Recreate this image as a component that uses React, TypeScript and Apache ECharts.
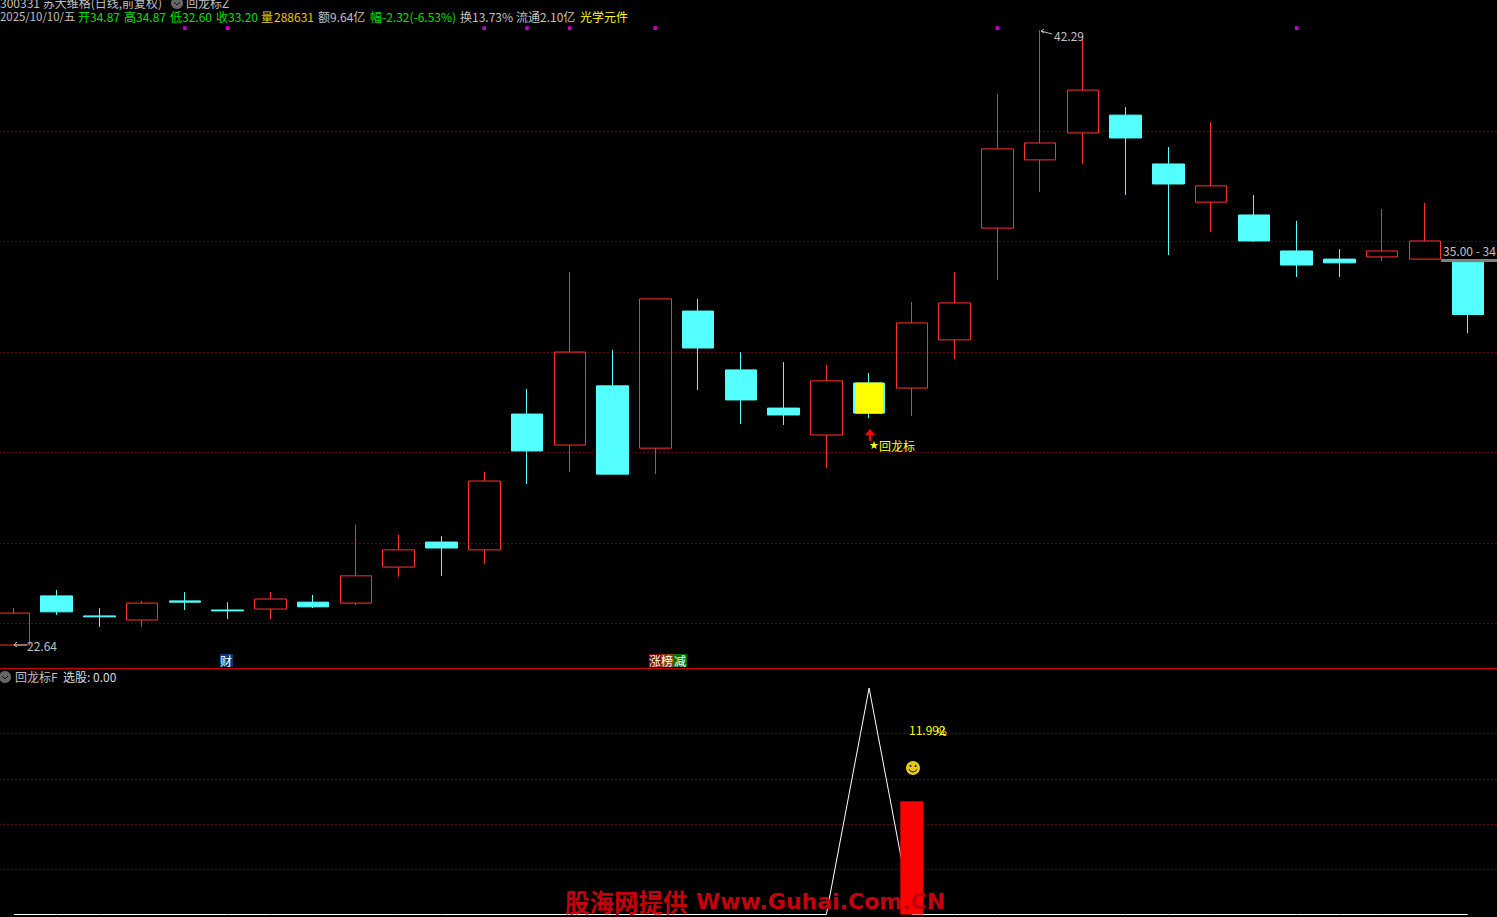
import React, { useEffect, useRef } from "react";
import * as echarts from "echarts";

const opens = [22.64,24.21,23.57,23.44,24.05,23.76,23.79,24.01,23.98,25.13,25.93,25.68,30.02,29.03,30.92,28.93,33.31,31.43,30.21,29.35,31.01,30.85,32.39,35.96,38.14,39.00,39.57,38.01,36.79,36.38,35.23,34.97,35.04,34.97,34.87];
const closes = [23.66,23.70,23.54,23.98,24.01,23.73,24.11,23.86,24.85,25.68,25.74,27.88,28.84,32.00,28.10,33.70,32.13,30.47,29.99,31.08,30.05,32.93,33.57,38.49,38.68,40.37,38.84,37.37,37.31,35.55,34.78,34.85,35.23,35.55,33.20];
const lows = [22.64,23.60,23.22,23.22,23.76,23.47,23.47,23.82,23.92,24.82,24.85,25.23,27.78,28.17,28.10,28.10,30.79,29.70,29.67,28.30,29.89,29.96,31.78,34.30,37.11,38.01,37.02,35.10,35.84,35.52,34.40,34.40,34.91,34.97,32.60];
const highs = [23.82,24.40,23.82,24.05,24.33,24.01,24.33,24.24,26.48,26.16,26.12,28.17,30.82,34.56,32.07,33.70,33.70,32.00,31.68,31.59,31.33,33.60,34.56,40.24,42.29,42.03,39.83,38.55,39.35,37.02,36.19,35.29,36.57,36.76,34.87];
const categories = [...opens.map((_, i) => String(i + 1)), ""];

const signalOpen = 30.05;
const signalClose = 31.01;
const signalIndex = 20;
const flagIndexes = [4, 5, 11, 12, 13, 15, 23, 30];
const flagPrice = 42.35;

const priceLevels = [39.047, 35.533, 31.986, 28.791, 25.884, 23.328];
const lowerLevels = [19.87, 39.74, 59.61, 79.92];
const lowerLine = [0,0,0,0,0,0,0,0,0,0,0,0,0,0,0,0,0,0,0,0,100,0,0,0,0,0,0,0,0,0,0,0,0,0,0];
const lowerBars = [0,0,0,0,0,0,0,0,0,0,0,0,0,0,0,0,0,0,0,0,0,50,0,0,0,0,0,0,0,0,0,0,0,0,0];

const GRAY = "#c0c0c0";
const GREEN = "#00e000";
const FONT = '12px "Noto Sans CJK SC", "Liberation Sans", sans-serif';
const headerSegments: [string, number, string, string?][] = [
  ["2025/10/10/五", 0, GRAY, '11.4px "Noto Sans CJK SC", "Liberation Sans", sans-serif'],
  ["开", 78, GREEN], ["34.87", 90, GREEN],
  ["高", 124, GREEN], ["34.87", 136, GREEN],
  ["低", 170, GREEN], ["32.60", 182, GREEN],
  ["收", 216, GREEN], ["33.20", 228, GREEN],
  ["量", 261, "#e6c800"], ["288631", 274, "#e6c800"],
  ["额", 318, GRAY], ["9.64亿", 330, GRAY],
  ["幅", 370, GREEN], ["-2.32(-6.53%)", 382, GREEN],
  ["换", 460, GRAY], ["13.73%", 472, GRAY],
  ["流通", 516, GRAY], ["2.10亿", 540, GRAY],
  ["光学元件", 580, "#ffff00"],
];

const txt = (text: string, x: number, y: number, fill: string, font = FONT) => ({
  type: "text", silent: true, z: 50,
  style: { text, x, y: y - 1, fill, font, textVerticalAlign: "middle" },
});
const badge = (x: number, w: number, bg: string, label: string) => [
  { type: "rect", z: 50, shape: { x, y: 654, width: w, height: 13 }, style: { fill: bg } },
  txt(label, x, 661, "#ffffff"),
];
const chevron = (cx: number, cy: number) => [
  { type: "circle", z: 50, shape: { cx, cy, r: 6 }, style: { fill: "#666666" } },
  { type: "polyline", z: 51, shape: { points: [[cx - 3, cy - 1], [cx, cy + 2], [cx + 3, cy - 1]] }, style: { stroke: "#111111", lineWidth: 1, fill: "none" } },
];

const graphics: any[] = [
  { type: "rect", z: 40, shape: { x: 0, y: 668, width: 1497, height: 1 }, style: { fill: "#c80000" } },
  txt("300331 苏大维格(日线,前复权)", 0, 3, GRAY),
  ...chevron(177, 3),
  txt("回龙标Z", 186, 3, GRAY),
  ...headerSegments.map(([t, x, c, f]) => txt(t, x, 17, c, f || FONT)),
  // high / low callouts
  txt("42.29", 1054, 36, GRAY),
  { type: "polyline", z: 50, shape: { points: [[1044, 29], [1041, 31], [1044, 33]] }, style: { stroke: GRAY, lineWidth: 1, fill: "none" } },
  { type: "line", z: 50, shape: { x1: 1041, y1: 31, x2: 1052, y2: 34 }, style: { stroke: GRAY, lineWidth: 1 } },
  txt("22.64", 27, 646, GRAY),
  { type: "polyline", z: 50, shape: { points: [[17, 642], [14, 645], [17, 647]] }, style: { stroke: GRAY, lineWidth: 1, fill: "none" } },
  { type: "line", z: 50, shape: { x1: 14, y1: 645, x2: 27, y2: 645 }, style: { stroke: GRAY, lineWidth: 1 } },
  // current price tag
  txt("35.00 - 34", 1443, 251, GRAY),
  { type: "rect", z: 50, shape: { x: 1441, y: 259, width: 56, height: 3 }, style: { fill: "#808080" } },
  // signal arrow and label
  { type: "polygon", z: 50, shape: { points: [[870, 429], [875, 435], [865, 435]] }, style: { fill: "#ff0000" } },
  { type: "rect", z: 50, shape: { x: 869, y: 435, width: 2, height: 6 }, style: { fill: "#ff0000" } },
  txt("★", 869, 446, "#ffff00", '11px "DejaVu Sans"'),
  txt("回龙标", 879, 446, "#ffff00"),
  // badges
  ...badge(220, 13, "#003c78", "财"),
  ...badge(649, 13, "#800000", "涨"),
  ...badge(661, 13, "#804000", "榜"),
  ...badge(674, 13, "#007000", "减"),
  // lower panel header
  ...chevron(5, 677),
  txt("回龙标F", 15, 677, GRAY),
  txt("选股: 0.00", 63, 677, "#d8d8d8"),
  // annotations of the lower panel
  txt("11.992", 909, 730, "#ffff00"),
  txt("%", 937, 733, "#ffff00", '11px "Liberation Sans"'),
  { type: "circle", z: 50, shape: { cx: 913, cy: 768, r: 7 }, style: { fill: "#e8c820" } },
  { type: "circle", z: 51, shape: { cx: 910.5, cy: 766, r: 1 }, style: { fill: "#222200" } },
  { type: "circle", z: 51, shape: { cx: 915.5, cy: 766, r: 1 }, style: { fill: "#222200" } },
  { type: "arc", z: 51, shape: { cx: 913, cy: 768, r: 4, startAngle: 0.3, endAngle: Math.PI - 0.3 }, style: { stroke: "#222200", lineWidth: 1, fill: "none" } },
  // watermark
  txt("股海网提供", 565, 902, "#c4000c", 'bold 24.5px "Noto Sans CJK SC"'),
  txt("Www.Guhai.Com.CN", 696, 902, "#c4000c", 'bold 22px "DejaVu Sans"'),
];

const levelLines = (vals: number[]) => ({
  silent: true, symbol: "none", animation: false, label: { show: false }, z: 1,
  lineStyle: { color: "#c00010", width: 1, type: [1, 3] as any, dashOffset: 0.5, opacity: 1 },
  data: vals.map((yAxis) => ({ yAxis })),
});

const option: any = {
  animation: false,
  backgroundColor: "#000000",
  tooltip: { show: false },
  grid: [
    { left: -7.5, width: 1539.4, top: 0, height: 668, outerBoundsMode: "none" },
    { left: -7.5, width: 1539.4, top: 669, height: 245.5, outerBoundsMode: "none" },
  ],
  xAxis: [
    { type: "category", gridIndex: 0, data: categories, show: false },
    { type: "category", gridIndex: 1, data: categories, show: false },
  ],
  yAxis: [
    { type: "value", gridIndex: 0, min: 21.906, max: 43.2485, show: false, splitLine: { show: false } },
    { type: "value", gridIndex: 1, min: 0, max: 108.4, show: false, splitLine: { show: false } },
  ],
  graphic: graphics,
  series: [
    {
      type: "candlestick", xAxisIndex: 0, yAxisIndex: 0, barWidth: 32, z: 3,
      data: opens.map((o, i) => [o, closes[i], lows[i], highs[i]]),
      itemStyle: { color: "transparent", borderColor: "#ff3232", color0: "#54ffff", borderColor0: "#54ffff", borderWidth: 1 },
      markLine: levelLines(priceLevels),
    },
    {
      type: "candlestick", xAxisIndex: 0, yAxisIndex: 0, barWidth: 27, z: 4,
      data: opens.map((_, i) => (i === signalIndex ? [signalOpen, signalClose, signalOpen, signalClose] : ["-", "-", "-", "-"])),
      itemStyle: { color: "#ffff00", borderColor: "#ffff00", borderWidth: 1 },
    },
    {
      type: "scatter", xAxisIndex: 0, yAxisIndex: 0, symbol: "rect", symbolSize: 3.6, z: 5,
      data: flagIndexes.map((i) => [i, flagPrice]),
      itemStyle: { color: "#ff00ff" },
    },
    {
      type: "line", xAxisIndex: 1, yAxisIndex: 1, data: lowerLine, symbol: "none", z: 3,
      lineStyle: { color: "#ffffff", width: 1 },
      markLine: levelLines(lowerLevels),
    },
    {
      type: "bar", xAxisIndex: 1, yAxisIndex: 1, data: lowerBars, barWidth: 23, z: 4,
      itemStyle: { color: "#ff0000" },
    },
  ],
};

export default function App() {
  const ref = useRef<HTMLDivElement>(null);
  useEffect(() => {
    document.body.style.margin = "0";
    document.body.style.background = "#000";
    const chart = echarts.init(ref.current!, null, { renderer: "svg" });
    chart.setOption(option);
    return () => chart.dispose();
  }, []);
  return <div ref={ref} style={{ width: 1497, height: 917, overflow: "hidden" }} />;
}
